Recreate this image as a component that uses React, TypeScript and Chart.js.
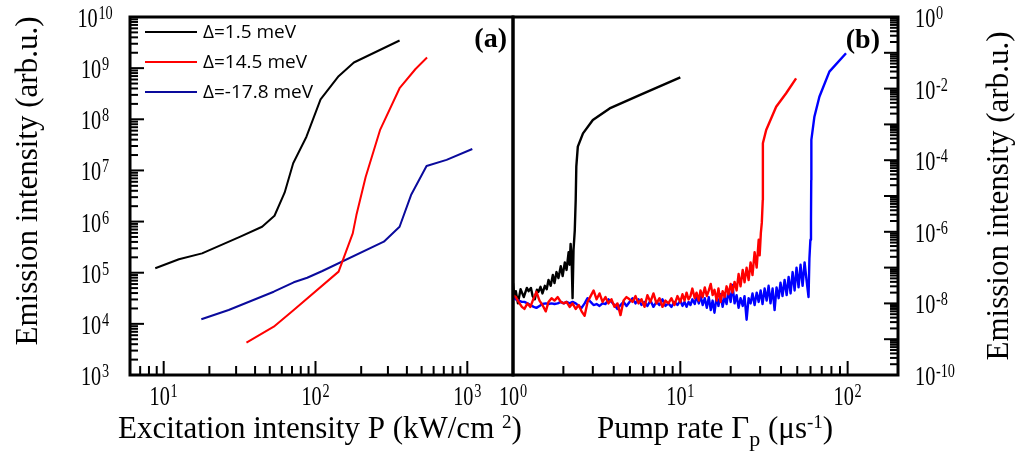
import React, { useEffect, useRef } from 'react';
import { Chart, registerables } from 'chart.js';

Chart.register(...registerables);

const W = 1016;
const H = 459;

// ---------- Panel (a): emission vs excitation intensity ----------
const seriesLabels = ['Δ=1.5 meV', 'Δ=14.5 meV', 'Δ=-17.8 meV'];

const excBlackP = [8.8, 12.6, 17.9, 32.0, 44.5, 53.7, 62.6, 71.3, 87.2, 108, 142, 179, 358];
const excBlackI = [1.22e5, 1.83e5, 2.39e5, 5.06e5, 7.93e5, 1.3e6, 3.67e6, 1.38e7, 4.56e7, 2.44e8, 6.96e8, 1.29e9, 3.47e9];

const excRedP = [35.1, 53.1, 71.9, 142, 176, 186, 214, 266, 358, 456, 543];
const excRedI = [4.28e3, 8.79e3, 1.87e4, 1.05e5, 5.89e5, 1.34e6, 7.43e6, 6.12e7, 4.05e8, 9.62e8, 1.61e9];

const excBlueP = [17.7, 26.8, 53.1, 71.9, 88.2, 111, 282, 358, 426, 539, 730, 1079];
const excBlueI = [1.23e4, 1.87e4, 4.25e4, 6.49e4, 7.98e4, 1.08e5, 4.04e5, 7.93e5, 3.3e6, 1.22e7, 1.61e7, 2.62e7];

// ---------- Panel (b): emission vs pump rate (x, y) ----------
const pumpBlack: [number, number][] = [
  [1.0, 3.7e-8], [1.02, 1.4e-8], [1.04, 2.2e-8], [1.07, 1.0e-8], [1.11, 2.5e-8], [1.16, 1.5e-8],
  [1.21, 2.7e-8], [1.24, 2.2e-8], [1.28, 2.7e-8], [1.31, 1.6e-8], [1.35, 1.3e-8], [1.39, 2.4e-8],
  [1.42, 2.1e-8], [1.46, 2.9e-8], [1.5, 1.9e-8], [1.55, 3.1e-8], [1.59, 2.5e-8], [1.63, 4.5e-8],
  [1.68, 3.1e-8], [1.73, 6.2e-8], [1.77, 3.7e-8], [1.82, 7.5e-8], [1.87, 5.1e-8], [1.93, 1.1e-7],
  [1.98, 5.8e-8], [2.04, 1.4e-7], [2.09, 8.6e-8], [2.15, 2.7e-7], [2.18, 1.2e-7], [2.21, 4.6e-7],
  [2.24, 1.85e-7], [2.27, 1.4e-8], [2.3, 3.1e-7], [2.34, 1.1e-6], [2.37, 7.7e-6], [2.39, 6.6e-5],
  [2.44, 2.4e-4], [2.62, 5.6e-4], [3.0, 1.33e-3], [3.78, 2.8e-3], [5.71, 6.6e-3], [10.0, 2.07e-2],
];

const pumpRed: [number, number][] = [
  [1.0, 1.7e-8], [1.04, 1.5e-8], [1.08, 1.1e-8], [1.13, 8e-9], [1.17, 7e-9], [1.22, 1.0e-8],
  [1.27, 8e-9], [1.33, 1.4e-8], [1.38, 2.1e-8], [1.44, 1.2e-8], [1.5, 9e-9], [1.57, 6e-9],
  [1.63, 1.1e-8], [1.7, 1.4e-8], [1.77, 1.2e-8], [1.85, 1.5e-8], [1.93, 1.1e-8], [2.01, 1.0e-8],
  [2.09, 1.1e-8], [2.18, 8e-9], [2.27, 1.0e-8], [2.37, 7e-9], [2.47, 9e-9], [2.57, 6e-9],
  [2.68, 4.5e-9], [2.79, 1.1e-8], [2.91, 1.6e-8], [3.03, 2.3e-8], [3.16, 1.3e-8], [3.29, 1.9e-8],
  [3.43, 1.1e-8], [3.57, 1.5e-8], [3.72, 1.0e-8], [3.88, 1.3e-8], [4.04, 8e-9], [4.21, 1.0e-8],
  [4.39, 4.7e-9], [4.58, 1.2e-8], [4.77, 1.5e-8], [4.97, 1.3e-8], [5.18, 1.1e-8], [5.4, 1.6e-8],
  [5.62, 1.0e-8], [5.86, 1.3e-8], [6.11, 8e-9], [6.36, 1.7e-8], [6.63, 1.1e-8], [6.91, 1.9e-8],
  [7.2, 1.0e-8], [7.51, 1.4e-8], [7.82, 8e-9], [8.15, 1.2e-8], [8.49, 1.0e-8], [8.85, 1.4e-8],
  [9.22, 9e-9], [9.61, 1.6e-8], [10.0, 1.1e-8], [10.3, 1.8e-8], [10.6, 1.2e-8], [10.9, 2.0e-8],
  [11.2, 1.3e-8], [11.5, 1.6e-8], [11.8, 2.6e-8], [12.2, 1.4e-8], [12.5, 2.0e-8], [12.9, 1.2e-8],
  [13.2, 2.3e-8], [13.6, 1.5e-8], [14.0, 2.8e-8], [14.4, 1.6e-8], [14.8, 2.3e-8], [15.2, 3.5e-8],
  [15.6, 1.7e-8], [16.0, 2.4e-8], [16.5, 1.2e-8], [16.9, 2.6e-8], [17.4, 1.1e-8], [17.9, 2.2e-8],
  [18.4, 1.5e-8], [18.9, 3.0e-8], [19.4, 1.8e-8], [20.0, 3.5e-8], [20.5, 2.0e-8], [21.1, 4.0e-8],
  [21.7, 2.3e-8], [22.3, 6.6e-8], [22.9, 3.0e-8], [23.6, 8.6e-8], [24.2, 3.9e-8], [24.9, 1.0e-7],
  [25.6, 4.5e-8], [26.3, 1.4e-7], [27.0, 6.2e-8], [27.8, 2.7e-7], [28.6, 1.0e-7], [29.4, 6.0e-7],
  [29.8, 2.2e-7], [30.3, 9.4e-7], [30.7, 1.8e-6], [31.1, 7.7e-6], [31.1, 5.3e-5], [31.2, 2.96e-4],
  [32.6, 7.0e-4], [37.4, 3.1e-3], [42.9, 7.4e-3], [49.2, 1.94e-2],
];

const pumpBlue: [number, number][] = [
  [1.0, 1.5e-8], [1.04, 1.3e-8], [1.08, 1.2e-8], [1.13, 1.1e-8], [1.17, 1.1e-8], [1.22, 1.0e-8],
  [1.27, 9e-9], [1.33, 8e-9], [1.38, 7.5e-9], [1.44, 8.5e-9], [1.5, 9.6e-9], [1.57, 1.0e-8],
  [1.63, 9.6e-9], [1.7, 1.0e-8], [1.77, 9.6e-9], [1.85, 1.0e-8], [1.93, 1.1e-8], [2.01, 1.0e-8],
  [2.09, 1.1e-8], [2.18, 1.0e-8], [2.27, 1.1e-8], [2.37, 1.0e-8], [2.47, 8.5e-9], [2.57, 7.5e-9],
  [2.68, 1.0e-8], [2.79, 1.4e-8], [2.91, 1.1e-8], [3.03, 9e-9], [3.16, 9.6e-9], [3.29, 8.5e-9],
  [3.43, 1.0e-8], [3.57, 9.6e-9], [3.72, 1.3e-8], [3.88, 1.1e-8], [4.04, 9e-9], [4.21, 7e-9],
  [4.39, 9e-9], [4.58, 1.1e-8], [4.77, 8.5e-9], [4.97, 1.1e-8], [5.18, 1.4e-8], [5.4, 1.0e-8],
  [5.62, 1.3e-8], [5.86, 9e-9], [6.11, 1.1e-8], [6.36, 8.5e-9], [6.63, 1.2e-8], [6.91, 8e-9],
  [7.2, 1.1e-8], [7.51, 9e-9], [7.82, 1.3e-8], [8.15, 8.5e-9], [8.49, 1.0e-8], [8.85, 8e-9],
  [9.22, 1.1e-8], [9.61, 9e-9], [10.0, 1.2e-8], [10.3, 8.5e-9], [10.6, 1.1e-8], [10.9, 8e-9],
  [11.2, 1.1e-8], [11.5, 9e-9], [11.8, 1.3e-8], [12.2, 9.6e-9], [12.5, 1.6e-8], [12.9, 1.0e-8],
  [13.2, 1.7e-8], [13.6, 9e-9], [14.0, 1.4e-8], [14.4, 7.5e-9], [14.8, 1.5e-8], [15.2, 6.5e-9],
  [15.6, 1.2e-8], [16.0, 5.5e-9], [16.5, 1.6e-8], [16.9, 8.5e-9], [17.4, 1.8e-8], [17.9, 8e-9],
  [18.4, 1.5e-8], [18.9, 9.6e-9], [19.4, 2.3e-8], [20.0, 1.1e-8], [20.5, 3.3e-8], [21.1, 1.0e-8],
  [21.7, 1.7e-8], [22.3, 7.5e-9], [22.9, 1.4e-8], [23.6, 8.5e-9], [24.2, 1.6e-8], [24.9, 3.5e-9],
  [25.6, 1.4e-8], [26.3, 1.0e-8], [27.0, 1.9e-8], [27.8, 9e-9], [28.6, 2.0e-8], [29.4, 1.1e-8],
  [30.2, 2.3e-8], [31.0, 9.6e-9], [31.9, 2.6e-8], [32.8, 1.2e-8], [33.7, 3.1e-8], [34.6, 1.0e-8],
  [35.6, 2.6e-8], [36.6, 6.5e-9], [37.6, 2.8e-8], [38.7, 1.4e-8], [39.7, 3.8e-8], [40.8, 1.6e-8],
  [42.0, 4.5e-8], [43.2, 1.7e-8], [44.4, 5.5e-8], [45.6, 1.9e-8], [46.9, 7.5e-8], [48.2, 2.3e-8],
  [49.5, 1.0e-7], [50.9, 2.8e-8], [52.3, 1.2e-7], [53.8, 3.1e-8], [55.3, 1.4e-7], [56.8, 4.5e-8],
  [58.4, 1.5e-8], [59.1, 1.8e-7], [59.9, 6.0e-7], [60.4, 2.1e-6], [60.6, 2.8e-5], [60.7, 3.7e-4],
  [63.3, 1.64e-3], [67.8, 5.9e-3], [77.8, 2.97e-2], [97.8, 9.7e-2],
];

// ---------- Axis ranges & tick labels ----------
const leftXRange = [6, 2000];
const leftYRange = [1e3, 1e10];
const rightXRange = [1, 200];
const rightYRange = [1e-10, 1];
const leftXExps = ['1', '2', '3'];
const leftYExps = ['3', '4', '5', '6', '7', '8', '9', '10'];
const rightXExps = ['0', '1', '2'];
const rightYExps = ['0', '-2', '-4', '-6', '-8', '-10'];

const colors = { black: '#000000', red: '#ff0000', navy: '#0a0a9c', blue: '#0000ff' };

const SERIF = '"Liberation Serif", "Times New Roman", serif';
const BASE_FONT = `27px ${SERIF}`;
const EXP_FONT = `19px ${SERIF}`;
const TITLE_FONT = `31px ${SERIF}`;
const SX = 0.75;

function logTicks(min: number, max: number) {
  const res: { v: number; major: boolean }[] = [];
  const k0 = Math.floor(Math.log10(min) + 1e-9);
  const k1 = Math.ceil(Math.log10(max) - 1e-9);
  for (let k = k0; k <= k1; k++) {
    for (let m = 1; m <= 9; m++) {
      const v = m * Math.pow(10, k);
      if (v >= min * 0.9999 && v <= max * 1.0001) res.push({ v, major: m === 1 });
    }
  }
  return res;
}

function powWidth(ctx: CanvasRenderingContext2D, exp: string) {
  ctx.font = BASE_FONT;
  const b = ctx.measureText('10').width;
  ctx.font = EXP_FONT;
  const e = ctx.measureText(exp).width;
  return (b + 1 + e) * SX;
}

function drawPow(ctx: CanvasRenderingContext2D, exp: string, x: number, baseline: number, anchor: 'left' | 'center') {
  const w = powWidth(ctx, exp);
  const left = anchor === 'center' ? x - w / 2 : x;
  ctx.save();
  ctx.translate(left, baseline);
  ctx.scale(SX, 1);
  ctx.textAlign = 'left';
  ctx.textBaseline = 'alphabetic';
  ctx.font = BASE_FONT;
  ctx.fillText('10', 0, 0);
  const b = ctx.measureText('10').width;
  ctx.font = EXP_FONT;
  ctx.fillText(exp, b + 1, -8);
  ctx.restore();
}

function seg(ctx: CanvasRenderingContext2D, x1: number, y1: number, x2: number, y2: number) {
  ctx.beginPath();
  ctx.moveTo(x1, y1);
  ctx.lineTo(x2, y2);
  ctx.stroke();
}

function drawRuns(ctx: CanvasRenderingContext2D, x: number, baseline: number, runs: { t: string; font: string; dy: number }[]) {
  let cx = x;
  ctx.textAlign = 'left';
  ctx.textBaseline = 'alphabetic';
  for (const r of runs) {
    ctx.font = r.font;
    ctx.fillText(r.t, cx, baseline + r.dy);
    cx += ctx.measureText(r.t).width;
  }
}

function drawYTitle(ctx: CanvasRenderingContext2D, text: string, bx: number, cy: number) {
  ctx.save();
  ctx.translate(bx, cy);
  ctx.rotate(-Math.PI / 2);
  ctx.font = TITLE_FONT;
  ctx.textAlign = 'center';
  ctx.textBaseline = 'alphabetic';
  ctx.fillText(text, 0, 0);
  ctx.restore();
}

const leftFrame = {
  id: 'leftFrame',
  afterDraw(chart: any) {
    const ctx: CanvasRenderingContext2D = chart.ctx;
    const xs = chart.scales.x;
    const ys = chart.scales.y;
    const a = chart.chartArea;
    ctx.save();
    ctx.strokeStyle = '#000';
    ctx.fillStyle = '#000';
    ctx.lineWidth = 2;
    for (const t of logTicks(ys.min, ys.max)) {
      const py = ys.getPixelForValue(t.v);
      seg(ctx, a.left, py, a.left + (t.major ? 14 : 8), py);
    }
    for (const t of logTicks(xs.min, xs.max)) {
      const px = xs.getPixelForValue(t.v);
      seg(ctx, px, a.bottom, px, a.bottom - (t.major ? 14 : 9));
    }
    ctx.lineWidth = 3;
    ctx.strokeRect(a.left, a.top, a.right - a.left, a.bottom - a.top);

    leftYExps.forEach((e) => {
      const py = ys.getPixelForValue(Math.pow(10, Number(e)));
      drawPow(ctx, e, 95, py + 10, 'center');
    });
    leftXExps.forEach((e) => {
      const px = xs.getPixelForValue(Math.pow(10, Number(e)));
      drawPow(ctx, e, px, 405, 'center');
    });

    ctx.fillStyle = '#000';
    drawYTitle(ctx, 'Emission intensity (arb.u.)', 37, 181);
    drawRuns(ctx, 118, 438, [
      { t: 'Excitation intensity P (kW/cm ', font: TITLE_FONT, dy: 0 },
      { t: '2', font: `19px ${SERIF}`, dy: -10 },
      { t: ')', font: TITLE_FONT, dy: 0 },
    ]);

    // legend
    const legColors = [colors.black, colors.red, colors.navy];
    const legY = [32, 62, 92];
    seriesLabels.forEach((lab, i) => {
      ctx.strokeStyle = legColors[i];
      ctx.lineWidth = 2;
      seg(ctx, 145, legY[i], 197, legY[i]);
      ctx.fillStyle = '#000';
      ctx.font = '19px "Open Sans", "DejaVu Sans", sans-serif';
      ctx.textAlign = 'left';
      ctx.textBaseline = 'middle';
      ctx.fillText(lab, 203, legY[i] + 1);
    });

    ctx.fillStyle = '#000';
    ctx.font = `bold 28px ${SERIF}`;
    ctx.textAlign = 'right';
    ctx.textBaseline = 'alphabetic';
    ctx.fillText('(a)', 507, 47);
    ctx.restore();
  },
};

const rightFrame = {
  id: 'rightFrame',
  afterDraw(chart: any) {
    const ctx: CanvasRenderingContext2D = chart.ctx;
    const xs = chart.scales.x;
    const ys = chart.scales.y;
    const a = chart.chartArea;
    ctx.save();
    ctx.strokeStyle = '#000';
    ctx.fillStyle = '#000';
    ctx.lineWidth = 2;
    for (const t of logTicks(ys.min, ys.max)) {
      const py = ys.getPixelForValue(t.v);
      seg(ctx, a.right, py, a.right - (t.major ? 14 : 8), py);
    }
    for (const t of logTicks(xs.min, xs.max)) {
      const px = xs.getPixelForValue(t.v);
      seg(ctx, px, a.bottom, px, a.bottom - (t.major ? 14 : 9));
    }
    ctx.lineWidth = 3;
    ctx.strokeRect(a.left, a.top, a.right - a.left, a.bottom - a.top);

    rightYExps.forEach((e) => {
      const py = ys.getPixelForValue(Math.pow(10, Number(e)));
      drawPow(ctx, e, 915, py + 10, 'left');
    });
    rightXExps.forEach((e) => {
      const px = xs.getPixelForValue(Math.pow(10, Number(e)));
      drawPow(ctx, e, px, 405, 'center');
    });

    ctx.fillStyle = '#000';
    drawYTitle(ctx, 'Emission intensity (arb.u.)', 1008, 196);
    drawRuns(ctx, 597, 438, [
      { t: 'Pump rate Γ', font: TITLE_FONT, dy: 0 },
      { t: 'p', font: `22px ${SERIF}`, dy: 8 },
      { t: ' (μs', font: TITLE_FONT, dy: 0 },
      { t: '-1', font: `19px ${SERIF}`, dy: -10 },
      { t: ')', font: TITLE_FONT, dy: 0 },
    ]);

    ctx.font = `bold 28px ${SERIF}`;
    ctx.textAlign = 'right';
    ctx.textBaseline = 'alphabetic';
    ctx.fillText('(b)', 880, 48);
    ctx.restore();
  },
};

function lineDs(points: { x: number; y: number }[], color: string, width: number) {
  return {
    data: points,
    borderColor: color,
    backgroundColor: color,
    borderWidth: width,
    pointRadius: 0,
    fill: false,
    tension: 0,
    borderJoinStyle: 'round' as const,
  };
}

function zip(xs: number[], ys: number[]) {
  return xs.map((x, i) => ({ x, y: ys[i] }));
}

function pairs(p: [number, number][]) {
  return p.map(([x, y]) => ({ x, y }));
}

function baseOptions(padding: any, xr: number[], yr: number[]) {
  return {
    responsive: false,
    animation: false as const,
    events: [] as any[],
    layout: { padding },
    scales: {
      x: { type: 'logarithmic' as const, min: xr[0], max: xr[1], display: false },
      y: { type: 'logarithmic' as const, min: yr[0], max: yr[1], display: false },
    },
    plugins: { legend: { display: false }, tooltip: { enabled: false } },
  };
}

export default function App() {
  const leftRef = useRef<HTMLCanvasElement>(null);
  const rightRef = useRef<HTMLCanvasElement>(null);

  useEffect(() => {
    const left = new Chart(leftRef.current!, {
      type: 'line',
      data: {
        datasets: [
          lineDs(zip(excBlackP, excBlackI), colors.black, 2),
          lineDs(zip(excRedP, excRedI), colors.red, 2),
          lineDs(zip(excBlueP, excBlueI), colors.navy, 2),
        ],
      },
      options: baseOptions({ left: 130, right: W - 513, top: 17, bottom: H - 375 }, leftXRange, leftYRange) as any,
      plugins: [leftFrame],
    });
    const right = new Chart(rightRef.current!, {
      type: 'line',
      data: {
        datasets: [
          lineDs(pairs(pumpRed), colors.red, 2.4),
          lineDs(pairs(pumpBlue), colors.blue, 2.4),
          lineDs(pairs(pumpBlack), colors.black, 2.4),
        ],
      },
      options: baseOptions({ left: 513, right: W - 898, top: 17, bottom: H - 375 }, rightXRange, rightYRange) as any,
      plugins: [rightFrame],
    });
    return () => {
      left.destroy();
      right.destroy();
    };
  }, []);

  return (
    <div style={{ position: 'fixed', left: 0, top: 0, width: W, height: H, background: '#fff' }}>
      <canvas ref={leftRef} width={W} height={H} style={{ position: 'absolute', left: 0, top: 0 }} />
      <canvas ref={rightRef} width={W} height={H} style={{ position: 'absolute', left: 0, top: 0 }} />
    </div>
  );
}
